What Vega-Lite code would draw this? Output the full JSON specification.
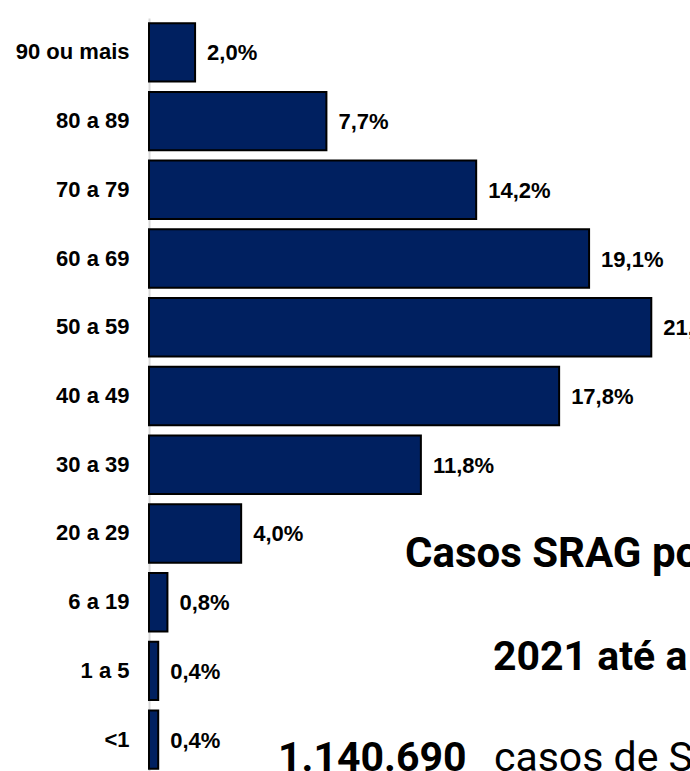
{
  "$schema": "https://vega.github.io/schema/vega-lite/v6.json",
  "width": 541,
  "height": 753,
  "autosize": {"type": "none"},
  "padding": {"left": 149, "top": 18, "right": 0, "bottom": 0},
  "background": "white",
  "config": {"view": {"stroke": null}},
  "data": {
    "values": [
      {"faixa": "90 ou mais", "pct": 2.0, "rotulo": "2,0%"},
      {"faixa": "80 a 89", "pct": 7.7, "rotulo": "7,7%"},
      {"faixa": "70 a 79", "pct": 14.2, "rotulo": "14,2%"},
      {"faixa": "60 a 69", "pct": 19.1, "rotulo": "19,1%"},
      {"faixa": "50 a 59", "pct": 21.8, "rotulo": "21,8%"},
      {"faixa": "40 a 49", "pct": 17.8, "rotulo": "17,8%"},
      {"faixa": "30 a 39", "pct": 11.8, "rotulo": "11,8%"},
      {"faixa": "20 a 29", "pct": 4.0, "rotulo": "4,0%"},
      {"faixa": "6 a 19", "pct": 0.8, "rotulo": "0,8%"},
      {"faixa": "1 a 5", "pct": 0.4, "rotulo": "0,4%"},
      {"faixa": "<1", "pct": 0.4, "rotulo": "0,4%"}
    ]
  },
  "encoding": {
    "y": {
      "field": "faixa",
      "type": "nominal",
      "sort": null,
      "scale": {"range": [0, 756], "paddingInner": 0.15, "paddingOuter": 0.075},
      "axis": {
        "title": null,
        "ticks": false,
        "domain": true,
        "domainColor": "#d9d9d9",
        "domainWidth": 2,
        "labelFont": "Liberation Sans",
        "labelFontWeight": "bold",
        "labelFontSize": 22,
        "labelColor": "#000000",
        "labelPadding": 20
      }
    }
  },
  "layer": [
    {
      "mark": {"type": "bar", "fill": "#002060", "stroke": "#000000", "strokeWidth": 2},
      "encoding": {
        "x": {"field": "pct", "type": "quantitative", "scale": {"domain": [0, 23.48], "nice": false}, "axis": null}
      }
    },
    {
      "mark": {"type": "text", "align": "left", "baseline": "middle", "dx": 12, "dy": 1, "font": "Liberation Sans", "fontWeight": "bold", "fontSize": 22, "fill": "#000000"},
      "encoding": {
        "x": {"field": "pct", "type": "quantitative"},
        "text": {"field": "rotulo"}
      }
    },
    {
      "data": {"values": [{"texto": "Casos SRAG por"}]},
      "mark": {"type": "text", "align": "left", "baseline": "alphabetic", "dy": 33.5, "font": "Roboto", "fontWeight": "bold", "fontSize": 42, "fill": "#000000"},
      "encoding": {
        "x": {"datum": 11.11, "type": "quantitative"},
        "y": {"datum": "20 a 29"},
        "text": {"field": "texto"}
      }
    },
    {
      "data": {"values": [{"texto": "2021 até a"}]},
      "mark": {"type": "text", "align": "left", "baseline": "alphabetic", "dy": -1, "font": "Roboto", "fontWeight": "bold", "fontSize": 41, "fill": "#000000"},
      "encoding": {
        "x": {"datum": 14.93, "type": "quantitative"},
        "y": {"datum": "1 a 5"},
        "text": {"field": "texto"}
      }
    },
    {
      "data": {"values": [{"texto": "1.140.690"}]},
      "mark": {"type": "text", "align": "left", "baseline": "alphabetic", "dy": 31.4, "font": "Roboto", "fontWeight": "bold", "fontSize": 41, "fill": "#000000"},
      "encoding": {
        "x": {"datum": 5.6, "type": "quantitative"},
        "y": {"datum": "<1"},
        "text": {"field": "texto"}
      }
    },
    {
      "data": {"values": [{"texto": "casos de SRAG"}]},
      "mark": {"type": "text", "align": "left", "baseline": "alphabetic", "dy": 31.4, "font": "Roboto", "fontWeight": "normal", "fontSize": 41, "fill": "#000000"},
      "encoding": {
        "x": {"datum": 14.97, "type": "quantitative"},
        "y": {"datum": "<1"},
        "text": {"field": "texto"}
      }
    }
  ]
}
